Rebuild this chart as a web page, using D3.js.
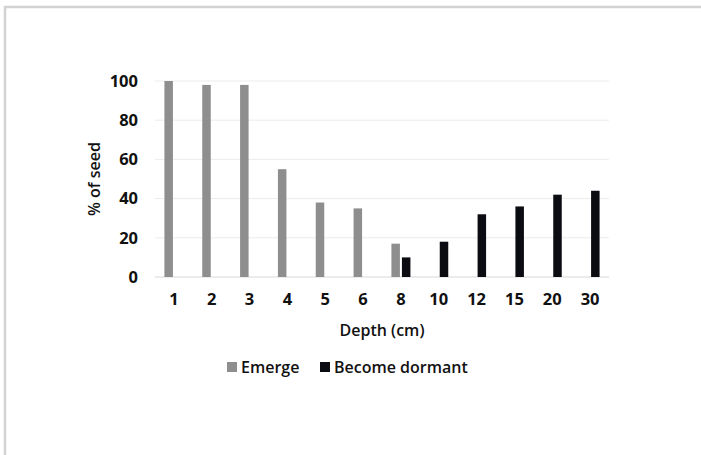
<!DOCTYPE html>
<html>
<head>
<meta charset="utf-8">
<script src="https://cdn.jsdelivr.net/npm/d3@7"></script>
<style>
  html, body { margin: 0; padding: 0; background: #fff; overflow: hidden; }
  svg { display: block; }
  text { font-family: "Open Sans", "Liberation Sans", sans-serif; fill: #111; }
</style>
</head>
<body>
<script>
// Chart data
const depths = ['1', '2', '3', '4', '5', '6', '8', '10', '12', '15', '20', '30'];
const emerge = [100, 98, 98, 55, 38, 35, 17, 0, 0, 0, 0, 0];
const dormant = [0, 0, 0, 0, 0, 0, 10, 18, 32, 36, 42, 44];
const yTicks = [0, 20, 40, 60, 80, 100];
const seriesNames = ['Emerge', 'Become dormant'];
const seriesColors = ['#8e8e8e', '#0b0b12'];

const width = 701, height = 455;
const margin = { top: 81, left: 155, right: 92, bottom: 178 };
const innerWidth = width - margin.left - margin.right;
const innerHeight = height - margin.top - margin.bottom;

const svg = d3.select('body').append('svg')
    .attr('width', width)
    .attr('height', height);

// Frame (only top and left edges show in the picture)
svg.append('line')
    .attr('x1', 5).attr('x2', 5)
    .attr('y1', 6).attr('y2', height)
    .attr('stroke', '#d2d2d2')
    .attr('stroke-width', 2.5);
svg.append('line')
    .attr('x1', 4).attr('x2', width)
    .attr('y1', 7).attr('y2', 7)
    .attr('stroke', '#d2d2d2')
    .attr('stroke-width', 2.5);

const plot = svg.append('g')
    .attr('transform', `translate(${margin.left},${margin.top})`);

const x = d3.scaleBand().domain(depths).range([0, innerWidth]);
const y = d3.scaleLinear().domain([0, 100]).range([innerHeight, 0]);

// Gridlines
plot.append('g')
    .selectAll('line')
    .data(yTicks)
    .join('line')
    .attr('x1', 0)
    .attr('x2', innerWidth)
    .attr('y1', d => y(d))
    .attr('y2', d => y(d))
    .attr('stroke', d => d === 0 ? '#d8d8d8' : '#ececec')
    .attr('stroke-width', 1);

// Bars
const barW = 8.5, gap = 1;
const series = [emerge, dormant];
series.forEach((vals, si) => {
    plot.append('g')
        .selectAll('rect')
        .data(vals.map((v, i) => ({ depth: depths[i], v })).filter(d => d.v > 0))
        .join('rect')
        .attr('x', d => x(d.depth) + x.bandwidth() / 2 + (si === 0 ? -gap - barW : gap))
        .attr('width', barW)
        .attr('y', d => y(d.v))
        .attr('height', d => innerHeight - y(d.v))
        .attr('fill', seriesColors[si]);
});

// Y axis
const yAxis = plot.append('g')
    .call(d3.axisLeft(y).tickValues(yTicks).tickSize(0).tickPadding(17));
yAxis.select('.domain').remove();
yAxis.selectAll('text')
    .attr('font-size', 16.5)
    .attr('font-weight', 700)
    .style('font-family', '"Open Sans", sans-serif')
    .attr('fill', '#111');

// X axis
const xAxis = plot.append('g')
    .attr('transform', `translate(0,${innerHeight})`)
    .call(d3.axisBottom(x).tickSize(0).tickPadding(16));
xAxis.select('.domain').remove();
xAxis.selectAll('text')
    .attr('font-size', 16.5)
    .attr('font-weight', 700)
    .style('font-family', '"Open Sans", sans-serif')
    .attr('fill', '#111');

// Axis titles
svg.append('text')
    .attr('transform', `translate(100,${margin.top + innerHeight / 2}) rotate(-90)`)
    .attr('text-anchor', 'middle')
    .attr('font-size', 16)
    .attr('font-weight', 600)
    .text('% of seed');

svg.append('text')
    .attr('x', margin.left + innerWidth / 2)
    .attr('y', 336)
    .attr('text-anchor', 'middle')
    .attr('font-size', 16)
    .attr('font-weight', 600)
    .text('Depth (cm)');

// Legend
const legendX = [227, 320];
const legend = svg.append('g');
seriesNames.forEach((name, i) => {
    legend.append('rect')
        .attr('x', legendX[i])
        .attr('y', 362)
        .attr('width', 10)
        .attr('height', 10)
        .attr('fill', seriesColors[i]);
    legend.append('text')
        .attr('x', legendX[i] + 14)
        .attr('y', 373)
        .attr('font-size', 16)
        .attr('font-weight', 600)
        .text(name);
});
</script>
</body>
</html>
